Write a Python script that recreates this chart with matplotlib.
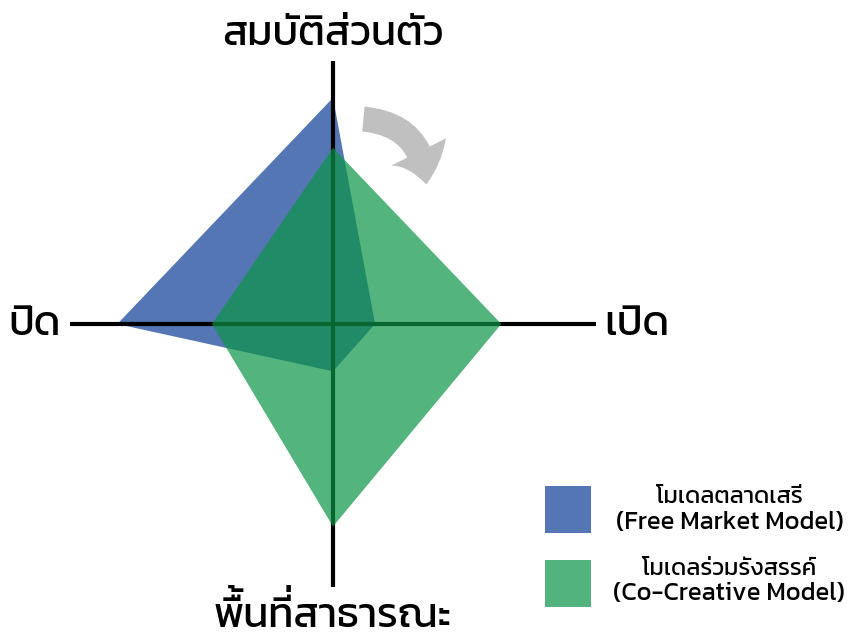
import matplotlib
matplotlib.use("Agg")
import matplotlib.pyplot as plt
from matplotlib import font_manager as fm
from matplotlib.font_manager import FontProperties
from matplotlib.patches import Polygon, Rectangle, FancyArrowPatch

# ---------------- data ----------------
categories = ["สมบัติส่วนตัว", "เปิด", "พื้นที่สาธารณะ", "ปิด"]  # top, right, bottom, left
free_market = [8.6, 1.6, 1.8, 8.2]
co_creative = [6.7, 6.4, 7.7, 4.6]
legend_thai = ["โมเดลตลาดเสรี", "โมเดลร่วมรังสรรค์"]
legend_eng = ["(Free Market Model)", "(Co-Creative Model)"]
axis_len = 10

# ---------------- font ----------------
def pick_font(pref):
    ents = {}
    for fe in fm.fontManager.ttflist:
        ents.setdefault(fe.name, []).append(fe)
    def wkey(e):
        w = e.weight
        try:
            w = int(w)
        except Exception:
            w = 400
        return (e.style != "normal", abs(w - 400))
    for n in pref:
        if n in ents:
            return sorted(ents[n], key=wkey)[0].fname
    return None

FONT = pick_font(["Kanit", "Prompt", "Mitr", "Loma", "Noto Sans Thai"])

def fp(size):
    if FONT:
        return FontProperties(fname=FONT, size=size)
    return FontProperties(family="DejaVu Sans", size=size)

try:
    from matplotlib.ft2font import LoadFlags
    NOHINT = LoadFlags.NO_HINTING
except Exception:
    from matplotlib.ft2font import LOAD_NO_HINTING as NOHINT

def adv_px(text, size):
    ft = fm.get_font(FONT)
    ft.set_size(size, 100)
    tot = 0.0
    for ch in text:
        g = ft.load_char(ord(ch), flags=NOHINT)
        tot += g.linearHoriAdvance / 65536.0
    return tot

UPPER = set("\u0E31\u0E34\u0E35\u0E36\u0E37\u0E47")
TONE = set("\u0E48\u0E49\u0E4A\u0E4B\u0E4C")

# ---------------- figure ----------------
W, H = 849, 635
fig = plt.figure(figsize=(W / 100, H / 100), dpi=100)
ax = fig.add_axes([0, 0, 1, 1])
s = 26.3
cx, cy = 333, 324
ax.set_xlim(-cx / s, (W - cx) / s)
ax.set_ylim(-(H - cy) / s, cy / s)
ax.axis("off")

def verts(v):
    top, right, bottom, left = v
    return [(0, top), (right, 0), (0, -bottom), (-left, 0)]

ax.add_patch(Polygon(verts(free_market), closed=True, facecolor="#5576B4",
                     edgecolor="none", zorder=1))
ax.plot([0, 0], [-axis_len, axis_len], color="black", lw=3.0, zorder=2,
        solid_capstyle="butt")
ax.plot([-axis_len, axis_len], [0, 0], color="black", lw=3.0, zorder=2,
        solid_capstyle="butt")
ax.add_patch(Polygon(verts(co_creative), closed=True, facecolor="#0C9447",
                     alpha=0.7, edgecolor="none", zorder=3))

# curved arrow
arr = FancyArrowPatch((1.05, 7.8), (3.55, 5.2),
                      connectionstyle="arc3,rad=-0.45",
                      arrowstyle="simple,head_length=24,head_width=44,tail_width=18",
                      color="#C0C0C0", lw=0, zorder=4)
ax.add_patch(arr)

# ---------------- text helpers ----------------
renderer = fig.canvas.get_renderer()

def width_px(text, size):
    t = fig.text(0, 0, text, fontproperties=fp(size))
    w = t.get_window_extent(renderer).width
    t.remove()
    return w

def thai_text(text, xc, base, size, raise_frac=0.21):
    """Draw text centred at xc (px) on baseline base (px, from top).
    Tone marks that follow an upper vowel are drawn raised."""
    if not FONT:
        fig.text(xc / W, 1 - base / H, text, ha="center", va="baseline",
                 fontproperties=fp(size))
        return
    main = ""
    marks = []
    prev = None
    for ch in text:
        if ch in TONE and prev in UPPER:
            marks.append((main, ch))
        else:
            main += ch
        prev = ch
    total = adv_px(main, size)
    x0 = xc - total / 2
    fig.text(x0 / W, 1 - base / H, main, ha="left", va="baseline",
             fontproperties=fp(size))
    rz = raise_frac * size * 100 / 72
    sp = adv_px("\u00a0", size)
    for prefix, ch in marks:
        xm = x0 + adv_px(prefix, size) - sp
        fig.text(xm / W, 1 - (base - rz) / H, "\u00a0" + ch, ha="left",
                 va="baseline", fontproperties=fp(size))

# axis labels
lab_size = 10 * 221 / width_px(categories[0], 10)
thai_text(categories[0], 332.5, 45, lab_size)
thai_text(categories[1], 636.5, 335, lab_size)
thai_text(categories[2], 332.5, 627, lab_size)
thai_text(categories[3], 35, 335, lab_size)

# legend
eng_size = 10 * 228 / width_px(legend_eng[0], 10)
th_size = 10 * 146 / width_px(legend_thai[0], 10)
colors = ["#5576B4", "#52B37E"]
sq_y = [486, 560]
thai_base = [503, 575]
eng_base = [529, 600]
for i in range(2):
    fig.add_artist(Rectangle((545 / W, 1 - (sq_y[i] + 47) / H), 46 / W, 47 / H,
                             transform=fig.transFigure, facecolor=colors[i],
                             edgecolor="none"))
    thai_text(legend_thai[i], 729, thai_base[i], th_size)
    thai_text(legend_eng[i], 729, eng_base[i], eng_size)

fig.savefig("out.png", dpi=100)
